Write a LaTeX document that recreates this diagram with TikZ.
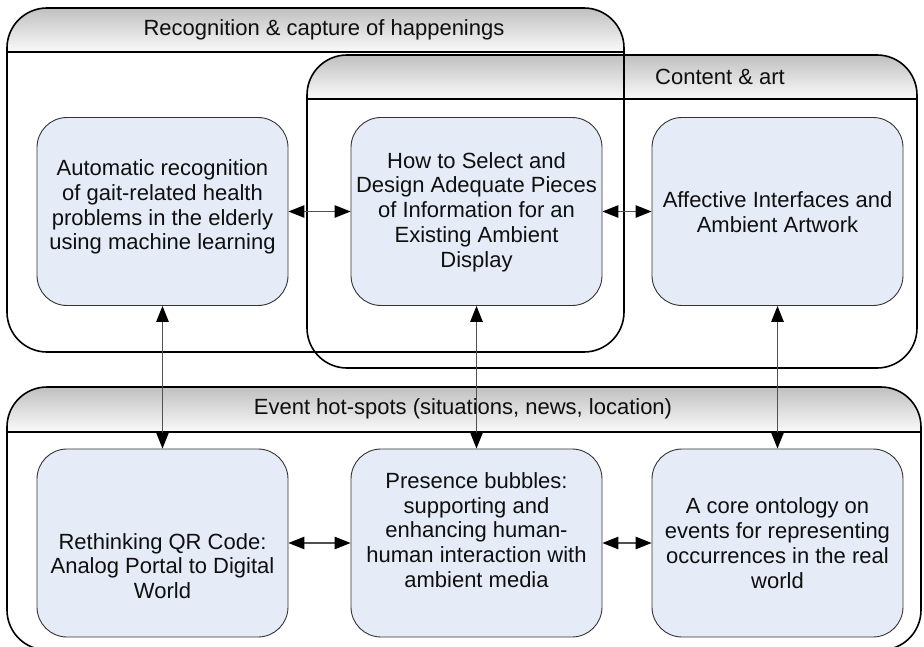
\documentclass[tikz,border=0pt]{standalone}
\usepackage{fontspec}
\setmainfont{Liberation Sans}
\usetikzlibrary{arrows.meta}
\definecolor{boxfill}{RGB}{230,236,247}
\definecolor{hdtop}{RGB}{192,192,192}
\definecolor{hdbot}{RGB}{250,250,250}
\definecolor{conncol}{RGB}{80,80,80}
\definecolor{txtcol}{RGB}{15,15,15}
\begin{document}
\begin{tikzpicture}[x=1pt,y=-1pt,
  grp/.style={draw=black,line width=1.6pt,rounded corners=40pt},
  sep/.style={draw=black,line width=1.6pt},
  hdr/.style={top color=hdtop,bottom color=hdbot,rounded corners=40pt},
  box/.style={draw=black!80,line width=0.9pt,fill=boxfill,rounded corners=30pt,minimum width=251pt,minimum height=188pt,inner sep=0pt},
  txt/.style={align=center,font=\fontsize{22}{24.8}\selectfont,text=txtcol,inner sep=0pt},
  conn/.style={draw=conncol,line width=1.3pt,{Triangle[length=16pt,width=12.5pt,color=black]}-{Triangle[length=16pt,width=12.5pt,color=black]}}]
\useasboundingbox (0,0) rectangle (924,647);
% header fills
\shade[hdr] (307,99) -- (307,55) -- (917,55) -- (917,99);
\shade[hdr] (7,52) -- (7,8) -- (624,8) -- (624,52);
\shade[hdr] (7,432) -- (7,387) -- (921,387) -- (921,432);
% group outlines
\draw[grp] (307,200) -- (307,55) -- (917,55) -- (917,368) -- (307,368) -- cycle;
\draw[sep] (307,99) -- (917,99);
\draw[grp] (7,200) -- (7,8) -- (624,8) -- (624,352) -- (7,352) -- cycle;
\draw[sep] (7,52) -- (624,52);
\draw[grp] (7,500) -- (7,387) -- (921,387) -- (921,650) -- (7,650) -- cycle;
\draw[sep] (7,432) -- (921,432);
% header texts
\node[txt] (h1) at (324,30) {Recognition \& capture of happenings};
\node[txt] (h2) at (720,77) {Content \& art};
\node[txt] (h3) at (463,409) {Event hot-spots (situations, news, location)};
% boxes
\node[box] (A) at (162.5,211.5) {};
\node[box] (B) at (476.5,211.5) {};
\node[box] (C) at (777.5,211.5) {};
\node[box] (D) at (162.5,543) {};
\node[box] (E) at (476.5,543) {};
\node[box] (F) at (777.5,543) {};
% box texts
\node[txt] (At) at (162.5,207) {Automatic recognition\\of gait-related health\\problems in the elderly\\using machine learning};
\node[txt] (Bt) at (476.5,212) {How to Select and\\Design Adequate Pieces\\of Information for an\\Existing Ambient\\Display};
\node[txt] (Ct) at (777.5,212) {Affective Interfaces and\\Ambient Artwork};
\node[txt] (Dt) at (162.5,566) {Rethinking QR Code:\\Analog Portal to Digital\\World};
\node[txt] (Et) at (476.5,530) {Presence bubbles:\\supporting and\\enhancing human-\\human interaction with\\ambient media};
\node[txt] (Ft) at (777.5,543) {A core ontology on\\events for representing\\occurrences in the real\\world};
% connectors
\draw[conn] (A.east) -- (B.west);
\draw[conn] (B.east) -- (C.west);
\draw[conn] (D.east) -- (E.west);
\draw[conn] (E.east) -- (F.west);
\draw[conn] (A.south) -- (D.north);
\draw[conn] (B.south) -- (E.north);
\draw[conn] (C.south) -- (F.north);
\end{tikzpicture}
\end{document}
